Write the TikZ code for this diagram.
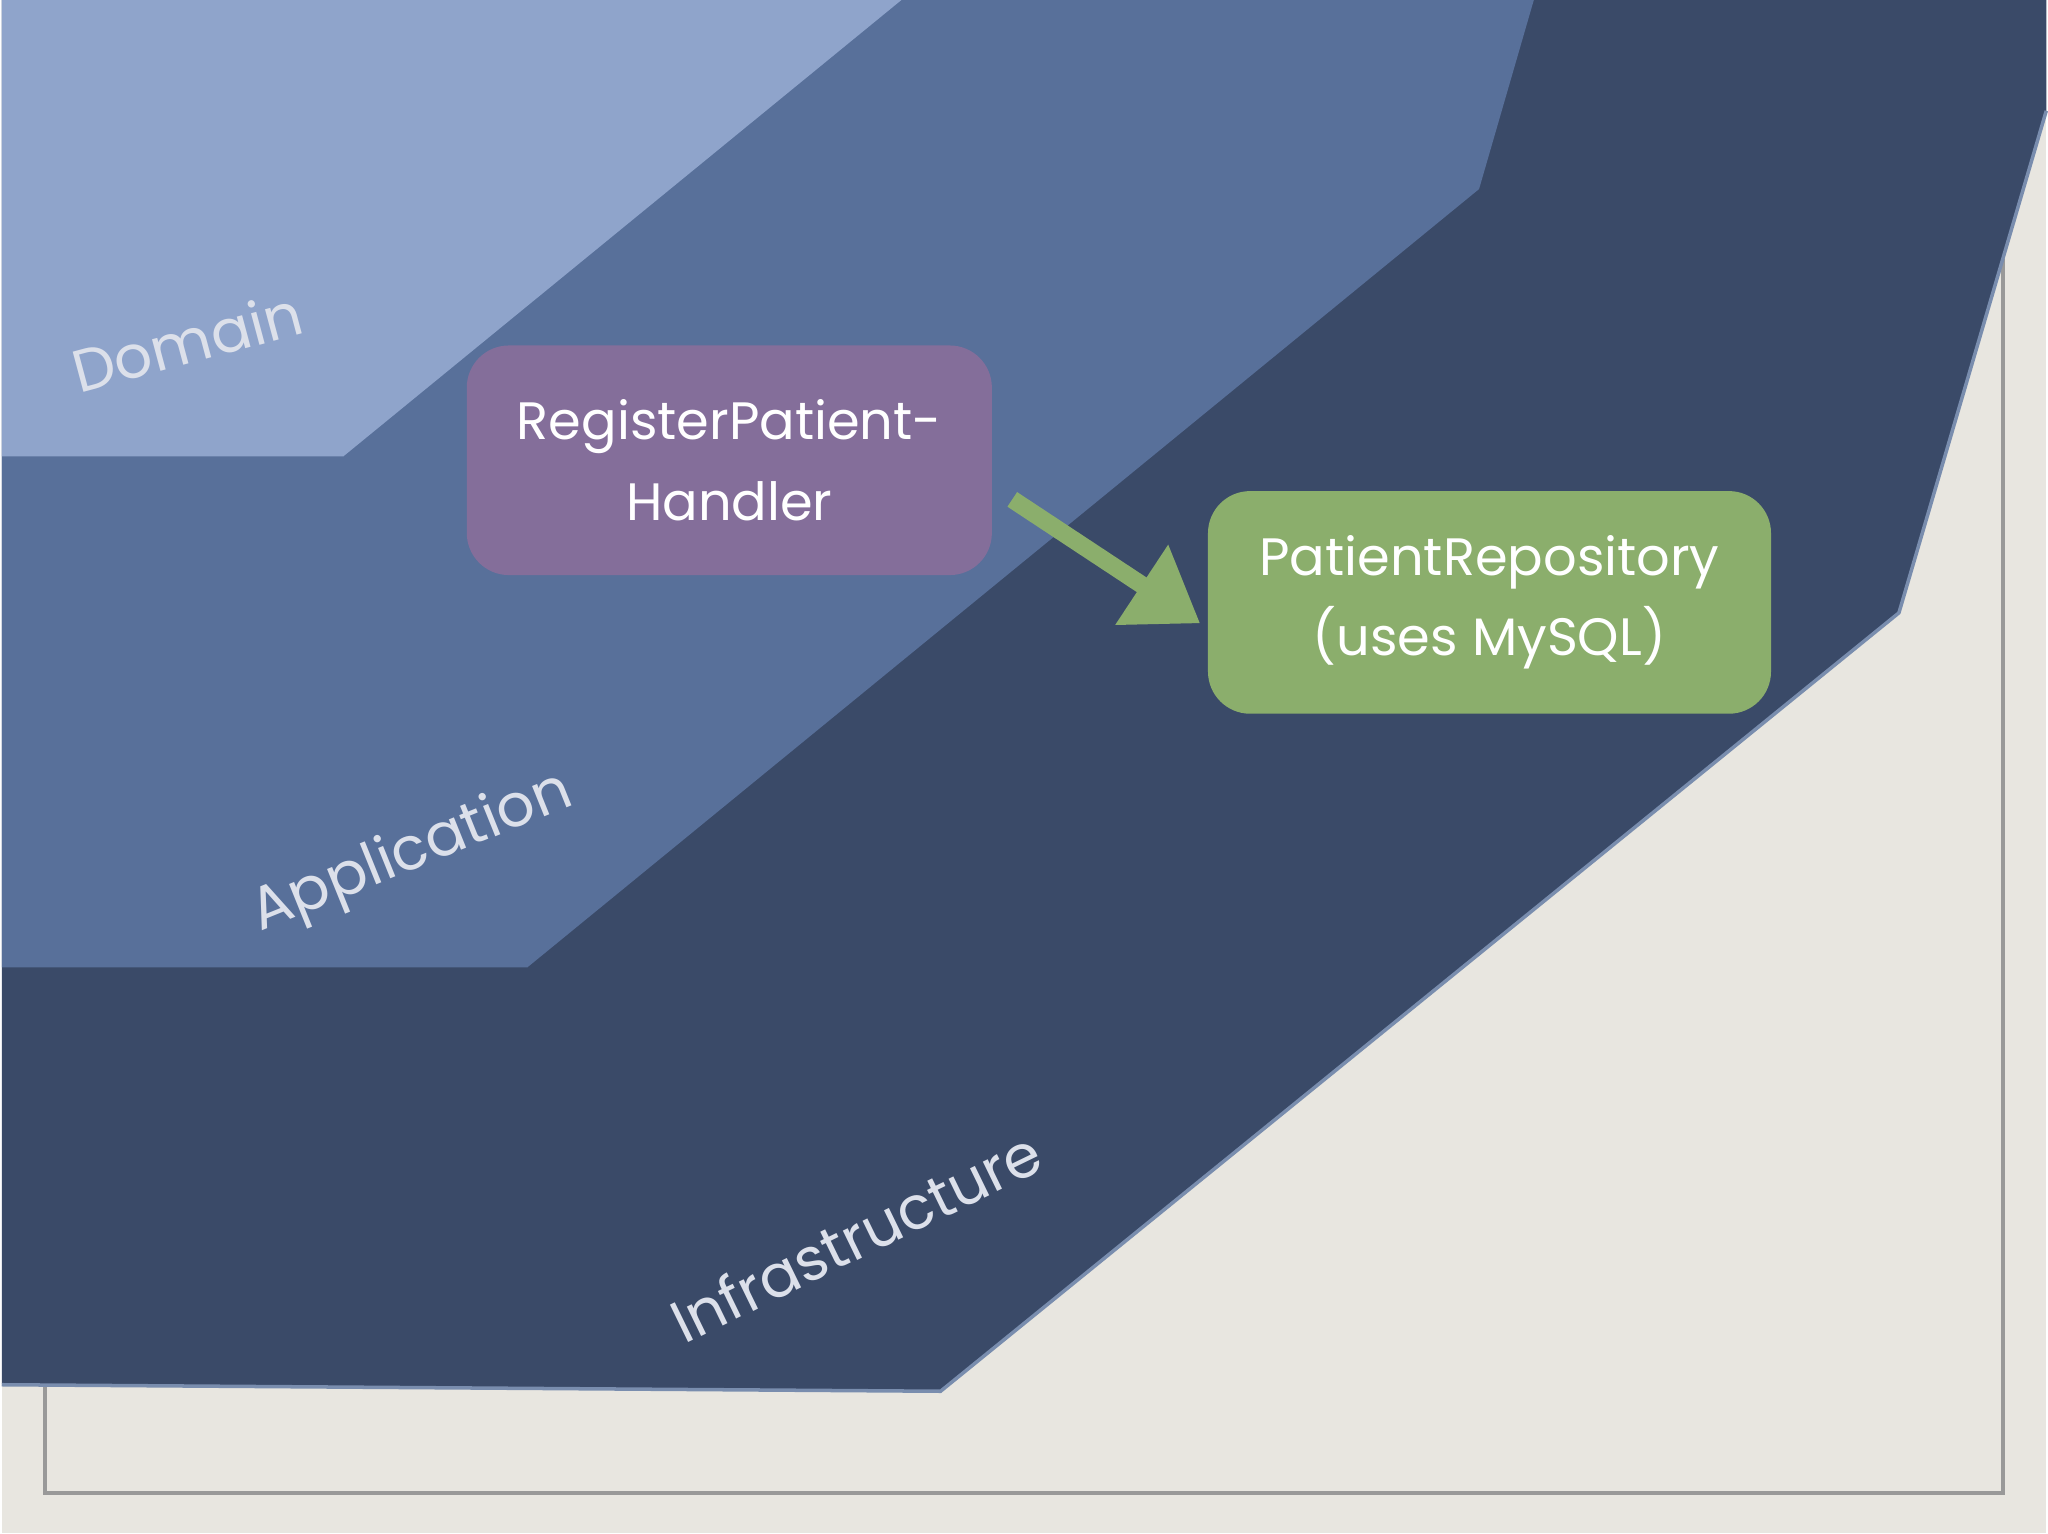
\documentclass[tikz,border=0pt]{standalone}
\usepackage{fontspec}
\setmainfont{Poppins}
\usetikzlibrary{arrows.meta}
\definecolor{bg}{HTML}{E8E6E0}
\definecolor{infra}{HTML}{3A4A68}
\definecolor{app}{HTML}{58709A}
\definecolor{dom}{HTML}{8FA4CB}
\definecolor{purp}{HTML}{846E9A}
\definecolor{grn}{HTML}{8BAE6C}
\definecolor{lbl}{HTML}{DCE0EA}
\tikzset{box/.style={rounded corners=12pt,text=white,align=center,font=\fontsize{15}{23}\selectfont},
layer/.style={text=lbl,font=\fontsize{17}{20}\selectfont}}
\begin{document}
\begin{tikzpicture}[x=0.013061cm,y=-0.013061cm]
\fill[bg] (0,0) rectangle (1568,1176);
\draw[gray!80,line width=1.2pt] (33,200) rectangle (1535,1145);
\fill[infra] (0,0) -- (1568,0) -- (1568,85) -- (1455,470) -- (720,1067) -- (0,1062) -- cycle;
\draw[app!80,line width=1pt] (1568,85) -- (1455,470) -- (720,1067) -- (0,1062);
\fill[app] (0,0) -- (1175,0) -- (1133,145) -- (403,742) -- (0,742) -- cycle;
\fill[dom] (0,0) -- (690,0) -- (262,350) -- (0,350) -- cycle;
\node[box,fill=purp,minimum width=5.26cm,minimum height=2.3cm] (h) at (558,353) {RegisterPatient-\\Handler};
\node[box,fill=grn,minimum width=5.64cm,minimum height=2.23cm] (r) at (1141,462) {PatientRepository\\(uses MySQL)};
\coordinate (s) at (775,383);
\coordinate (e) at ([xshift=-2pt,yshift=-6pt]r.west);
\draw[grn,line width=5pt,-{Triangle[length=20pt,width=26pt]}] (s) -- (e);
\node[layer,rotate=15] (d) at (142,262) {Domain};
\node[layer,rotate=22] (a) at (315,655) {Application};
\node[layer,rotate=26] (i) at (655,948) {Infrastructure};
\end{tikzpicture}
\end{document}
